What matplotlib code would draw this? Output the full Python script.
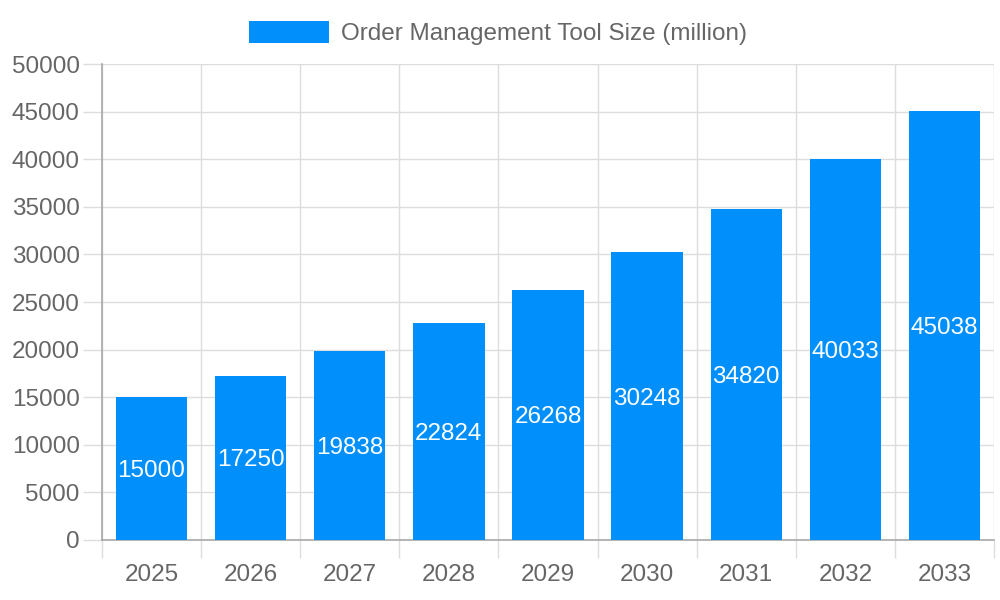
import numpy as np
import matplotlib
matplotlib.use("Agg")
import matplotlib.pyplot as plt
from matplotlib.ticker import FixedLocator

years = ['2025', '2026', '2027', '2028', '2029', '2030', '2031', '2032', '2033']
sizes = [15000, 17250, 19838, 22824, 26268, 30248, 34820, 40033, 45038]
series_name = 'Order Management Tool Size (million)'

BAR_COLOR = '#008ffb'
TEXT_COLOR = '#666666'
GRID_COLOR = '#dddddd'
AXIS_COLOR = '#a8a8a8'

plt.rcParams['font.family'] = ['Liberation Sans', 'DejaVu Sans']

fig = plt.figure(figsize=(10, 6), dpi=100)
ax = fig.add_axes([0.102, 0.1, 0.892, 0.7933])

x = np.arange(len(years))
bars = ax.bar(x, sizes, width=0.72, color=BAR_COLOR, label=series_name, zorder=3)

# value labels in the middle of each bar
for xi, v in zip(x, sizes):
    ax.text(xi, v / 2, str(v), ha='center', va='center_baseline', color='white',
            fontsize=17.5, zorder=4)

ax.set_xlim(-0.5, len(years) - 0.5)
ax.set_ylim(0, 50000)
ax.set_yticks(np.arange(0, 50001, 5000))
ax.set_xticks(x)
ax.set_xticklabels(years)
ax.xaxis.set_minor_locator(FixedLocator(np.arange(-0.5, len(years), 1.0)))

ax.tick_params(axis='x', which='major', length=0, pad=17, labelsize=17.5, labelcolor=TEXT_COLOR)
ax.tick_params(axis='x', which='minor', length=13, width=1, color=GRID_COLOR)
ax.tick_params(axis='y', which='major', length=14, width=1, color=GRID_COLOR,
               pad=2, labelsize=17.5, labelcolor=TEXT_COLOR)

ax.grid(True, axis='y', which='major', color=GRID_COLOR, linewidth=1, zorder=0)
ax.grid(True, axis='x', which='minor', color=GRID_COLOR, linewidth=1, zorder=0)
ax.grid(False, axis='x', which='major')

for side in ['top', 'right']:
    ax.spines[side].set_visible(False)
for side in ['left', 'bottom']:
    ax.spines[side].set_color(AXIS_COLOR)
    ax.spines[side].set_linewidth(1.2)

fig.legend(handles=[bars], labels=[series_name], loc='upper center',
           bbox_to_anchor=(0.498, 0.993), frameon=False, fontsize=17.5,
           labelcolor=TEXT_COLOR, handlelength=3.3, handleheight=1.0,
           handletextpad=0.5, borderaxespad=0.3)

fig.savefig('out.png', dpi=100)
